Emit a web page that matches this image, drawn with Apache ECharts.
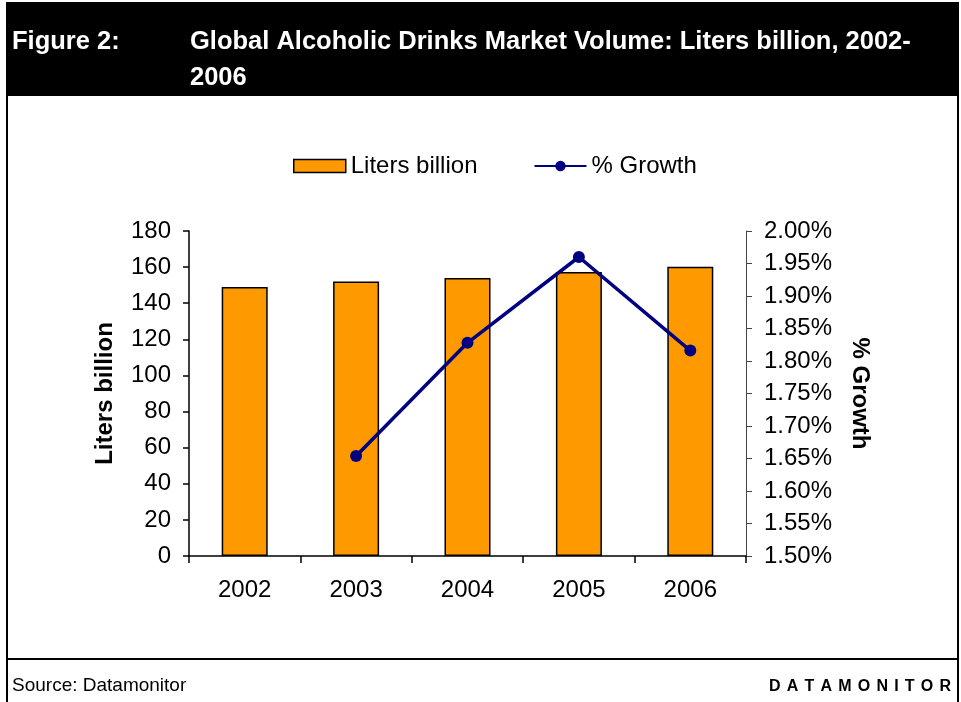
<!DOCTYPE html>
<html>
<head>
<meta charset="utf-8">
<script src="https://cdn.jsdelivr.net/npm/echarts@6/dist/echarts.min.js"></script>
<style>
html,body{margin:0;padding:0;background:#fff;}
#chart{width:961px;height:702px;}
</style>
</head>
<body>
<div id="chart"></div>
<script>
const categories = ['2002', '2003', '2004', '2005', '2006'];
const litersBillion = [149, 152, 154, 157.3, 160.2];
const growthPct = [null, 1.654, 1.828, 1.96, 1.816];
const leftTicks = { min: 0, max: 180, interval: 20 };
const rightTicks = { min: 1.5, max: 2.0, interval: 0.05 };
const titleLabel = 'Figure 2:';
const titleLine1 = 'Global Alcoholic Drinks Market Volume: Liters billion, 2002-';
const titleLine2 = '2006';
const sourceText = 'Source: Datamonitor';
const brandText = 'DATAMONITOR';

const FONT = '"Liberation Sans", Arial, sans-serif';
const chart = echarts.init(document.getElementById('chart'), null, { renderer: 'canvas' });

// letter-spaced brand text
const BRAND_FONT = 'bold 16px ' + FONT;
const ctx = document.createElement('canvas').getContext('2d');
ctx.font = BRAND_FONT;
const letters = brandText.split('');
const widths = letters.map(l => ctx.measureText(l).width);
const lettersW = widths.reduce((a, b) => a + b, 0);
const brandLeft = 769, brandRight = 951;
const spacing = (brandRight - brandLeft - lettersW) / (letters.length - 1);
let bx = brandLeft;
const brandEls = letters.map((l, i) => {
  const el = { type: 'text', left: bx, top: 679, style: { text: l, font: BRAND_FONT, fill: '#000' } };
  bx += widths[i] + spacing;
  return el;
});

const option = {
  animation: false,
  backgroundColor: '#fff',
  grid: { left: 189, right: 215, top: 231, bottom: 146, containLabel: false },
  legend: {
    top: 149,
    left: 288,
    itemWidth: 52,
    itemHeight: 13,
    itemGap: 56,
    textStyle: { fontFamily: FONT, fontSize: 24, color: '#000', padding: [0, 0, 0, 0] },
    data: [
      { name: 'Liters billion', icon: 'rect', itemStyle: { color: '#FF9900', borderColor: '#000', borderWidth: 1.5 } },
      { name: '% Growth' }
    ]
  },
  xAxis: {
    type: 'category',
    data: categories,
    axisLine: { lineStyle: { color: '#000', width: 1.5 } },
    axisTick: { show: true, length: 7, lineStyle: { color: '#000', width: 1.5 } },
    axisLabel: { fontFamily: FONT, fontSize: 24, color: '#000', margin: 22 }
  },
  yAxis: [
    {
      type: 'value',
      min: leftTicks.min, max: leftTicks.max, interval: leftTicks.interval,
      name: 'Liters billion',
      nameLocation: 'middle',
      nameGap: 72,
      nameRotate: 90,
      nameTextStyle: { fontFamily: FONT, fontSize: 24, fontWeight: 'bold', color: '#000' },
      axisLine: { show: true, lineStyle: { color: '#000', width: 1.5 } },
      axisTick: { show: true, length: 6, lineStyle: { color: '#000', width: 1.5 } },
      axisLabel: { fontFamily: FONT, fontSize: 24, color: '#000', margin: 18 },
      splitLine: { show: false }
    },
    {
      type: 'value',
      position: 'right',
      min: rightTicks.min, max: rightTicks.max, interval: rightTicks.interval,
      name: '% Growth',
      nameLocation: 'middle',
      nameGap: 102,
      nameRotate: -90,
      nameTextStyle: { fontFamily: FONT, fontSize: 24, fontWeight: 'bold', color: '#000' },
      axisLine: { show: true, lineStyle: { color: '#444', width: 1 } },
      axisTick: { show: true, length: 6, lineStyle: { color: '#444', width: 1 } },
      axisLabel: { fontFamily: FONT, fontSize: 24, color: '#000', margin: 18,
        formatter: v => v.toFixed(2) + '%' },
      splitLine: { show: false }
    }
  ],
  series: [
    {
      name: 'Liters billion',
      type: 'bar',
      data: litersBillion,
      barWidth: 46,
      itemStyle: { color: '#FF9900', borderColor: '#000', borderWidth: 1.5 },
      z: 2
    },
    {
      name: '% Growth',
      type: 'line',
      yAxisIndex: 1,
      data: growthPct,
      connectNulls: false,
      symbol: 'circle',
      symbolSize: 12,
      lineStyle: { color: '#000080', width: 3.5 },
      itemStyle: { color: '#000080' },
      z: 3
    }
  ],
  graphic: [
    { type: 'rect', shape: { x: 6, y: 2, width: 953, height: 94 }, style: { fill: '#000' }, z: -1 },
    { type: 'text', left: 12, top: 29, style: { text: titleLabel, font: 'bold 25.5px ' + FONT, fill: '#fff' } },
    { type: 'text', left: 190, top: 29, style: { text: titleLine1, font: 'bold 25.5px ' + FONT, fill: '#fff' } },
    { type: 'text', left: 190, top: 65, style: { text: titleLine2, font: 'bold 25.5px ' + FONT, fill: '#fff' } },
    { type: 'line', shape: { x1: 7, y1: 96, x2: 7, y2: 702 }, style: { stroke: '#000', lineWidth: 2 } },
    { type: 'line', shape: { x1: 958, y1: 2, x2: 958, y2: 702 }, style: { stroke: '#000', lineWidth: 2 } },
    { type: 'line', shape: { x1: 7, y1: 659, x2: 958, y2: 659 }, style: { stroke: '#000', lineWidth: 2 } },
    { type: 'text', left: 12, top: 676, style: { text: sourceText, font: '19px ' + FONT, fill: '#000' } }
  ].concat(brandEls)
};
chart.setOption(option);
</script>
</body>
</html>
